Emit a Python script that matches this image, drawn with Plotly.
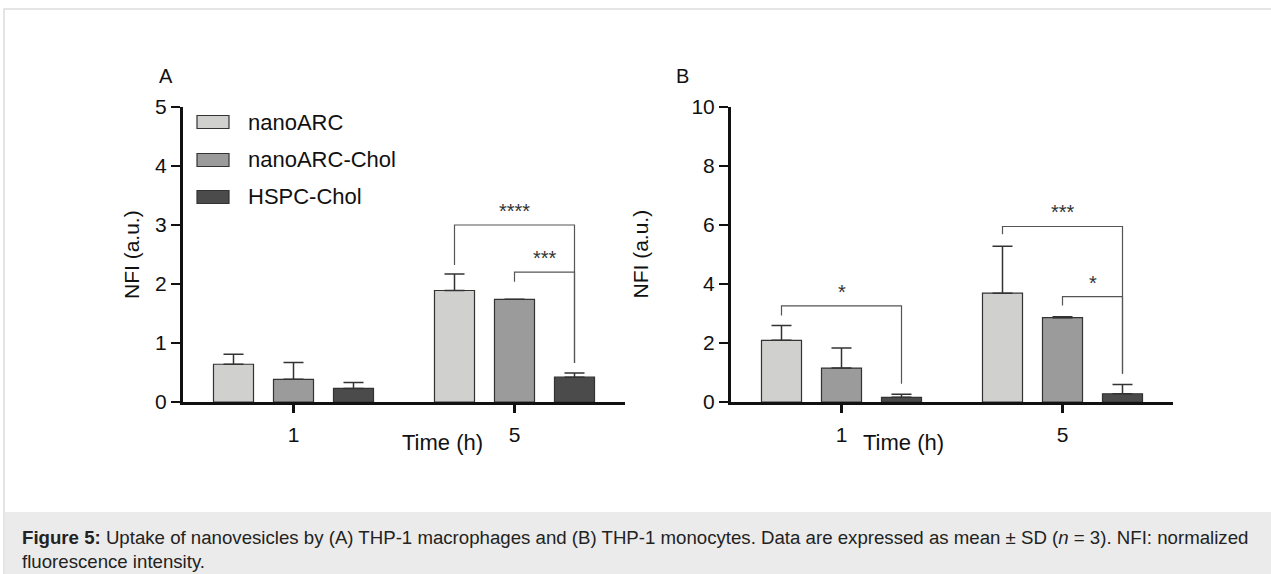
import plotly.graph_objects as go

W, H = 1271, 574

# ---------------- data ----------------
times = ["1", "5"]
series = ["nanoARC", "nanoARC-Chol", "HSPC-Chol"]
colors = ["#d0d0cf", "#9b9b9b", "#4b4b4b"]

a_nanoarc = [0.64, 1.89]
a_nanoarc_chol = [0.385, 1.74]
a_hspc_chol = [0.23, 0.42]
a_sd_nanoarc = [0.17, 0.28]
a_sd_nanoarc_chol = [0.285, 0.0]
a_sd_hspc_chol = [0.10, 0.07]

b_nanoarc = [2.09, 3.69]
b_nanoarc_chol = [1.15, 2.86]
b_hspc_chol = [0.16, 0.28]
b_sd_nanoarc = [0.50, 1.59]
b_sd_nanoarc_chol = [0.68, 0.03]
b_sd_hspc_chol = [0.10, 0.31]

# significance comparisons: (time index, series a, series b, bracket y, left leg end, right leg end, label)
a_sig = [
    (1, 0, 2, 3.00, 2.32, 0.66, "****"),
    (1, 1, 2, 2.20, 2.04, 0.66, "***"),
]
b_sig = [
    (0, 0, 2, 3.26, 2.93, 0.62, "*"),
    (1, 0, 2, 5.95, 5.69, 0.96, "***"),
    (1, 1, 2, 3.57, 3.27, 0.96, "*"),
]

a_yticks = [0, 1, 2, 3, 4, 5]
b_yticks = [0, 2, 4, 6, 8, 10]

caption = ("<b>Figure 5:</b> Uptake of nanovesicles by (A) THP-1 macrophages and (B) THP-1 monocytes. "
           "Data are expressed as mean ± SD (<i>n</i> = 3). NFI: normalized<br>fluorescence intensity.")

# ---------------- layout constants ----------------
FONT = "Liberation Sans, Arial, sans-serif"
BARGAP = 0.1855
GROUPGAP = 0.333
slot = (1 - BARGAP) / 3.0  # category units per bar slot

def px_x(p):
    return p / W

def px_y(p):
    return 1 - p / H

y_bottom = px_y(402)
y_top = px_y(107)

fig = go.Figure()

panels = [
    dict(xa="x", ya="y", vals=[a_nanoarc, a_nanoarc_chol, a_hspc_chol],
         sds=[a_sd_nanoarc, a_sd_nanoarc_chol, a_sd_hspc_chol], sig=a_sig),
    dict(xa="x2", ya="y2", vals=[b_nanoarc, b_nanoarc_chol, b_hspc_chol],
         sds=[b_sd_nanoarc, b_sd_nanoarc_chol, b_sd_hspc_chol], sig=b_sig),
]

for p in panels:
    for i, name in enumerate(series):
        fig.add_trace(go.Bar(
            x=times, y=p["vals"][i], name=name, xaxis=p["xa"], yaxis=p["ya"],
            marker=dict(color=colors[i], line=dict(color="#333333", width=1.2)),
            error_y=dict(type="data", symmetric=False, array=p["sds"][i],
                         arrayminus=[0] * len(times), color="#333333",
                         thickness=1.5, width=10),
            showlegend=False,
        ))

shapes = []
annotations = []

def bar_center(gi, si):
    return gi + (si - 1) * slot

for p in panels:
    xr, yr = p["xa"], p["ya"]
    for gi, sa, sb, yl, yla, ylb, lab in p["sig"]:
        xa_ = bar_center(gi, sa)
        xb_ = bar_center(gi, sb)
        path = f"M {xa_},{yla} L {xa_},{yl} L {xb_},{yl} L {xb_},{ylb}"
        shapes.append(dict(type="path", path=path, xref=xr, yref=yr,
                           line=dict(color="#555555", width=1.2)))
        annotations.append(dict(x=(xa_ + xb_) / 2, y=yl, xref=xr, yref=yr,
                                text=lab, showarrow=False, yanchor="bottom",
                                yshift=1, font=dict(size=20, color="#333333", family=FONT)))

# legend (panel A)
leg_rows = [122, 160, 197]
for i, name in enumerate(series):
    shapes.append(dict(type="rect", xref="paper", yref="paper",
                       x0=px_x(197), x1=px_x(229), y0=px_y(leg_rows[i] + 6.5), y1=px_y(leg_rows[i] - 6.5),
                       fillcolor=colors[i], line=dict(color="#333333", width=1.2)))
    annotations.append(dict(x=px_x(246), y=px_y(leg_rows[i]), xref="paper", yref="paper",
                            text=name, showarrow=False, xanchor="left", yanchor="middle",
                            font=dict(size=22, color="#111111", family=FONT)))

# frame and caption background
shapes.append(dict(type="rect", xref="paper", yref="paper", x0=px_x(4), x1=1.02,
                   y0=-0.02, y1=px_y(9), line=dict(color="#dddddd", width=1.5), layer="below"))
shapes.append(dict(type="rect", xref="paper", yref="paper", x0=px_x(4.8), x1=1.02,
                   y0=-0.02, y1=px_y(512), fillcolor="#ebebeb", line=dict(width=0), layer="below"))

# panel letters, axis titles, caption
for txt, x, y in [("A", 157, 63), ("B", 682, 63)]:
    annotations.append(dict(x=px_x(x), y=px_y(y), xref="paper", yref="paper", text=txt,
                            showarrow=False, font=dict(size=20, color="#111111", family=FONT)))
for x in (118, 640):
    annotations.append(dict(x=px_x(x), y=px_y(254.5), xref="paper", yref="paper",
                            text="NFI (a.u.)", textangle=-90, showarrow=False,
                            font=dict(size=21, color="#111111", family=FONT)))
for x in (400, 946):
    annotations.append(dict(x=px_x(x), y=px_y(457), xref="paper", yref="paper",
                            text="Time (h)", showarrow=False,
                            font=dict(size=22, color="#111111", family=FONT)))
annotations.append(dict(x=px_x(20), y=px_y(549), xref="paper", yref="paper", text=caption,
                        showarrow=False, xanchor="left", yanchor="middle", align="left",
                        font=dict(size=18.65, color="#222222", family=FONT)))

xaxis_common = dict(type="category", range=[-0.5, 1.5], showline=True, linecolor="#111111",
                    linewidth=3, ticks="outside", ticklen=8, tickwidth=3, tickcolor="#111111",
                    showgrid=False, zeroline=False, fixedrange=True, automargin=False,
                    ticklabelstandoff=4,
                    tickfont=dict(size=21, color="#111111", family=FONT))
yaxis_common = dict(showline=True, linecolor="#111111", linewidth=3, ticks="outside",
                    ticklen=9, tickwidth=2, tickcolor="#111111", showgrid=False, zeroline=False,
                    automargin=False, tickfont=dict(size=21, color="#111111", family=FONT))

fig.update_layout(
    width=W, height=H, margin=dict(l=0, r=0, t=0, b=0, pad=0, autoexpand=False),
    paper_bgcolor="white", plot_bgcolor="rgba(0,0,0,0)",
    barmode="group", bargap=BARGAP, bargroupgap=GROUPGAP,
    xaxis=dict(domain=[px_x(183), px_x(625)], anchor="y", **xaxis_common),
    yaxis=dict(domain=[y_bottom, y_top], anchor="x", range=[0, 5], tickvals=a_yticks, **yaxis_common),
    xaxis2=dict(domain=[px_x(731), px_x(1173)], anchor="y2", **xaxis_common),
    yaxis2=dict(domain=[y_bottom, y_top], anchor="x2", range=[0, 10], tickvals=b_yticks, **yaxis_common),
    shapes=shapes, annotations=annotations, showlegend=False,
)

fig.write_html("out.html")
